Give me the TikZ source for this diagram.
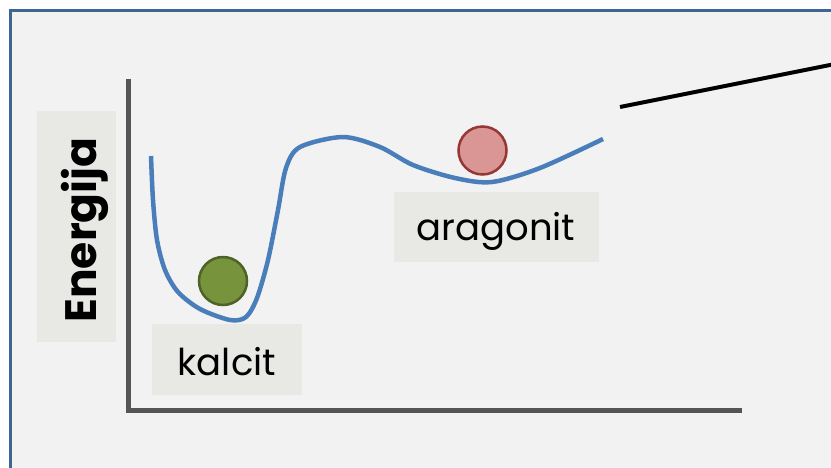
\documentclass[tikz,border=0pt]{standalone}
\usepackage{fontspec}
\setmainfont{Poppins}
\definecolor{framefill}{HTML}{F2F2F2}
\definecolor{frameblue}{HTML}{3F6594}
\definecolor{labelfill}{HTML}{E8E9E5}
\definecolor{axisgray}{HTML}{555555}
\definecolor{curveblue}{HTML}{4A7EBB}
\definecolor{greenfill}{HTML}{77933C}
\definecolor{greenline}{HTML}{4F6228}
\definecolor{redfill}{HTML}{D99694}
\definecolor{redline}{HTML}{953735}
\tikzset{
  labelbox/.style={fill=labelfill, draw=none, inner sep=0pt, anchor=north west},
  labeltext/.style={inner sep=0pt, anchor=base, font=\fontsize{37}{40}\selectfont},
  axisline/.style={draw=axisgray, line width=5pt},
  ball/.style={circle, minimum size=48pt, inner sep=0pt, line width=2.5pt},
}
\begin{document}
\begin{tikzpicture}[x=1pt,y=-1pt]
\useasboundingbox (0,0) rectangle (831,467);
\clip (0,0) rectangle (831,467);
\fill[white] (0,0) rectangle (831,467);
\draw[fill=framefill, draw=frameblue, line width=3pt] (10,10) rectangle (860,500);
% label boxes
\node[labelbox, minimum width=79pt, minimum height=231pt] (ebox) at (37,111) {};
\node[labelbox, minimum width=150pt, minimum height=71pt] (kbox) at (152,324) {};
\node[labelbox, minimum width=205pt, minimum height=70pt] (abox) at (394,192) {};
% axes
\coordinate (ytop) at (128.5,79);
\coordinate (origin) at (128.5,410.5);
\coordinate (xend) at (742,410.5);
\draw[axisline, line join=miter] (ytop) -- (origin) -- (xend);
% texts
\node[labeltext, rotate=90, font=\fontsize{44}{48}\selectfont\bfseries] (etext) at (96,230) {Energija};
\node[labeltext] (ktext) at (227,375) {kalcit};
\node[labeltext] (atext) at (496,240) {aragonit};
% energy curve
\draw[curveblue, line width=4.5pt, line cap=butt] plot[smooth, tension=0.5] coordinates {
 (151,156) (153,200) (157,240) (165,270) (178,292) (200,309) (230,320) (246,317) (257,298) (268,260) (278,210) (286,168) (300,147) (343,137) (380,147) (413,165) (455,178) (492,182) (540,168) (603,139)};
% balls
\node[ball, fill=greenfill, draw=greenline] (kball) at (223,281) {};
\node[ball, fill=redfill, draw=redline] (aball) at (482.5,150.5) {};
% pointer line
\coordinate (pstart) at (620,107);
\coordinate (pend) at (845,62);
\draw[black, line width=4pt] (pstart) -- (pend);
\end{tikzpicture}
\end{document}
